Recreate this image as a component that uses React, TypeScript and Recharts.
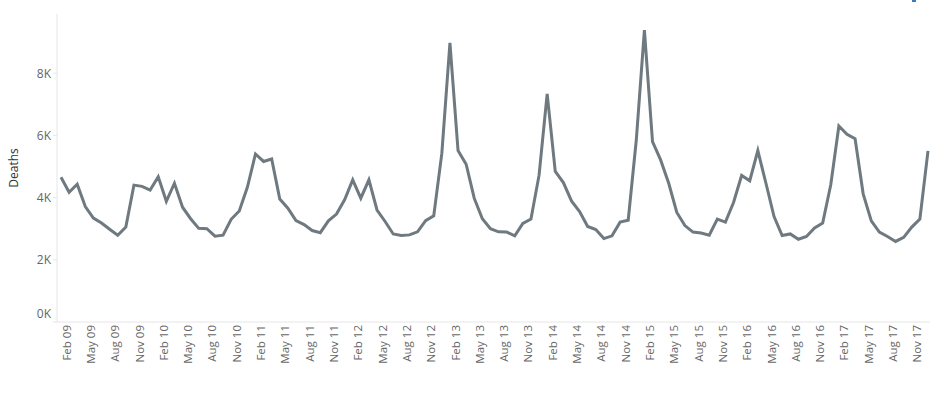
import { LineChart, Line, XAxis, YAxis } from 'recharts';

// monthly deaths, Jan..Dec for each year
const monthNames = ['Jan', 'Feb', 'Mar', 'Apr', 'May', 'Jun', 'Jul', 'Aug', 'Sep', 'Oct', 'Nov', 'Dec'];
const years = ['09', '10', '11', '12', '13', '14', '15', '16', '17'];

const deaths09 = [4650, 4170, 4430, 3710, 3340, 3180, 2980, 2790, 3050, 4400, 4360, 4240];
const deaths10 = [4670, 3880, 4460, 3690, 3320, 3010, 3000, 2760, 2790, 3300, 3570, 4330];
const deaths11 = [5400, 5160, 5240, 3950, 3660, 3260, 3130, 2940, 2870, 3250, 3470, 3930];
const deaths12 = [4570, 3980, 4570, 3600, 3230, 2830, 2780, 2800, 2900, 3260, 3410, 5420];
const deaths13 = [8970, 5510, 5070, 3980, 3320, 3000, 2900, 2890, 2770, 3170, 3310, 4720];
const deaths14 = [7330, 4840, 4480, 3890, 3550, 3070, 2970, 2680, 2770, 3210, 3270, 5850];
const deaths15 = [9380, 5800, 5210, 4460, 3520, 3100, 2890, 2860, 2790, 3310, 3210, 3840];
const deaths16 = [4710, 4540, 5510, 4460, 3390, 2780, 2830, 2660, 2750, 3020, 3180, 4410];
const deaths17 = [6300, 6030, 5890, 4120, 3250, 2890, 2750, 2590, 2720, 3050, 3310, 5500];

const deathsByYear = [deaths09, deaths10, deaths11, deaths12, deaths13, deaths14, deaths15, deaths16, deaths17];

const yTicks = [0, 2000, 4000, 6000, 8000];
const labelledMonths = ['Feb', 'May', 'Aug', 'Nov'];

const data = years.flatMap((yr, i) =>
  monthNames.map((m, j) => ({ month: `${m} ${yr}`, deaths: deathsByYear[i][j] }))
);

const FONT = '"Open Sans", sans-serif';

function MonthTick({ x, y, payload }: any) {
  const label: string = payload.value;
  if (!labelledMonths.includes(label.slice(0, 3))) return null;
  return (
    <text
      transform={`translate(${x - 3},${y}) rotate(-90)`}
      textAnchor="end"
      dominantBaseline="central"
      fill="#666"
      fontSize={11.5}
      fontFamily={FONT}
    >
      {label}
    </text>
  );
}

function DeathTick({ x, y, payload }: any) {
  const v: number = payload.value;
  return (
    <text
      x={x}
      y={v === 0 ? y - 9 : y}
      textAnchor="end"
      dominantBaseline="central"
      fill="#666"
      fontSize={12}
      fontFamily={FONT}
    >
      {`${v / 1000}K`}
    </text>
  );
}

function DeathsLabel({ viewBox }: any) {
  const cx = viewBox.x + 13;
  const cy = viewBox.y + viewBox.height / 2;
  return (
    <text
      transform={`translate(${cx},${cy}) rotate(-90)`}
      textAnchor="middle"
      dominantBaseline="central"
      fill="#333"
      fontSize={12}
      fontFamily={FONT}
    >
      Deaths
    </text>
  );
}

export default function App() {
  return (
    <div style={{ position: 'absolute', left: 0, top: 0, width: 938, height: 397, background: '#fff' }}>
      <LineChart width={938} height={397} data={data} margin={{ top: 14, right: 8, left: 0, bottom: 0 }}>
        <XAxis
          dataKey="month"
          interval={0}
          height={75}
          padding={{ left: 4, right: 2 }}
          axisLine={{ stroke: '#e6e6e6' }}
          tickLine={false}
          tickSize={0}
          tickMargin={3}
          tick={<MonthTick />}
        />
        <YAxis
          width={57}
          domain={[0, 9900]}
          ticks={yTicks}
          axisLine={{ stroke: '#e6e6e6' }}
          tickLine={{ stroke: '#e6e6e6' }}
          tickSize={4}
          tickMargin={2}
          tick={<DeathTick />}
          label={<DeathsLabel />}
        />
        <Line
          type="linear"
          dataKey="deaths"
          stroke="#6e7980"
          strokeWidth={3}
          dot={false}
          isAnimationActive={false}
        />
      </LineChart>
      <div style={{ position: 'absolute', left: 912, top: 0, width: 4, height: 2, background: '#3a78c0' }} />
    </div>
  );
}
